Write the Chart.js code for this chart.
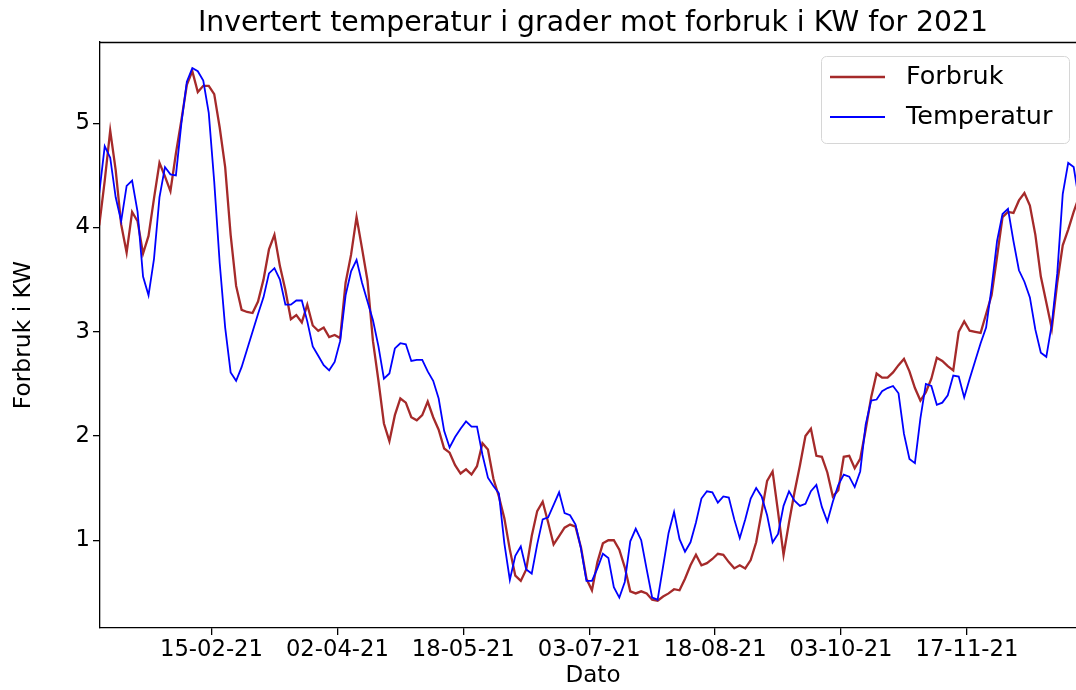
<!DOCTYPE html>
<html>
<head>
<meta charset="utf-8">
<script src="https://cdn.jsdelivr.net/npm/chart.js@4.4.1/dist/chart.umd.min.js"></script>
<style>
  html, body { margin: 0; padding: 0; background: #fff; overflow: hidden; }
  #wrap { width: 1076px; height: 690px; overflow: hidden; position: relative; }
  canvas { display: block; }
</style>
</head>
<body>
<div id="wrap"><canvas id="c" width="1090" height="690"></canvas></div>
<script>
// Day of year 2021 (0 = 1 Jan)
const days = [4,6,8,10,12,14,16,18,20,22,
  24,26,28,30,32,34,36,38,40,42,
  44,46,48,50,52,54,56,58,60,62,
  64,66,68,70,72,74,76,78,80,82,
  84,86,88,90,92,94,96,98,100,102,
  104,106,108,110,112,114,116,118,120,122,
  124,126,128,130,132,134,136,138,140,142,
  144,146,148,150,152,154,156,158,160,162,
  164,166,168,170,172,174,176,178,180,182,
  184,186,188,190,192,194,196,198,200,202,
  204,206,208,210,212,214,216,218,220,222,
  224,226,228,230,232,234,236,238,240,242,
  244,246,248,250,252,254,256,258,260,262,
  264,266,268,270,272,274,276,278,280,282,
  284,286,288,290,292,294,296,298,300,302,
  304,306,308,310,312,314,316,318,320,322,
  324,326,328,330,332,334,336,338,340,342,
  344,346,348,350,352,354,356,358,360,362];

const forbruk = [4.02,4.45,4.93,4.55,4.03,3.76,4.15,4.06,3.75,3.92,
  4.28,4.62,4.49,4.35,4.71,5.03,5.37,5.50,5.30,5.36,
  5.36,5.28,4.96,4.58,3.93,3.44,3.21,3.19,3.18,3.29,
  3.50,3.79,3.93,3.63,3.40,3.12,3.16,3.09,3.26,3.06,
  3.01,3.04,2.95,2.97,2.94,3.47,3.74,4.10,3.80,3.49,
  2.91,2.53,2.12,1.95,2.20,2.36,2.32,2.18,2.15,2.20,
  2.33,2.18,2.06,1.88,1.84,1.72,1.64,1.68,1.63,1.71,
  1.93,1.87,1.59,1.42,1.21,0.91,0.66,0.61,0.72,1.04,
  1.28,1.37,1.17,0.96,1.04,1.12,1.15,1.13,0.93,0.63,
  0.52,0.79,0.97,1.00,1.00,0.91,0.74,0.51,0.49,0.51,
  0.49,0.43,0.42,0.46,0.49,0.53,0.52,0.63,0.76,0.86,
  0.76,0.78,0.82,0.87,0.86,0.79,0.73,0.76,0.73,0.81,
  0.98,1.27,1.57,1.66,1.27,0.86,1.17,1.46,1.72,2.00,
  2.07,1.81,1.80,1.65,1.42,1.48,1.80,1.81,1.69,1.78,
  2.06,2.37,2.60,2.56,2.56,2.61,2.68,2.74,2.62,2.46,
  2.34,2.42,2.55,2.75,2.72,2.67,2.63,3.00,3.10,3.01,
  3.00,2.99,3.17,3.35,3.72,4.10,4.15,4.14,4.26,4.33,
  4.21,3.93,3.53,3.28,3.03,3.47,3.83,3.98,4.15,4.30];

const temperatur = [4.33,4.78,4.67,4.29,4.06,4.40,4.45,4.15,3.53,3.35,
  3.70,4.29,4.58,4.51,4.50,5.00,5.40,5.53,5.50,5.41,
  5.10,4.44,3.66,3.04,2.61,2.53,2.66,2.83,3.00,3.17,
  3.33,3.56,3.61,3.50,3.26,3.26,3.30,3.30,3.10,2.86,
  2.77,2.68,2.63,2.71,2.91,3.35,3.58,3.69,3.47,3.29,
  3.11,2.86,2.55,2.60,2.84,2.89,2.88,2.72,2.73,2.73,
  2.62,2.53,2.36,2.05,1.89,1.99,2.07,2.14,2.09,2.09,
  1.82,1.60,1.52,1.45,0.97,0.62,0.85,0.94,0.72,0.68,
  0.96,1.20,1.22,1.34,1.46,1.26,1.24,1.15,0.92,0.61,
  0.61,0.73,0.87,0.83,0.55,0.45,0.60,0.99,1.11,1.00,
  0.72,0.45,0.43,0.75,1.07,1.27,1.01,0.89,0.98,1.17,
  1.40,1.47,1.46,1.36,1.42,1.41,1.20,1.02,1.20,1.40,
  1.50,1.42,1.24,0.98,1.06,1.33,1.47,1.38,1.33,1.35,
  1.47,1.53,1.32,1.18,1.37,1.53,1.63,1.61,1.51,1.66,
  2.11,2.34,2.35,2.43,2.46,2.48,2.41,2.02,1.78,1.74,
  2.17,2.50,2.48,2.30,2.32,2.39,2.58,2.57,2.37,2.55,
  2.72,2.89,3.04,3.42,3.87,4.13,4.18,3.87,3.59,3.48,
  3.33,3.02,2.80,2.76,3.07,3.56,4.32,4.62,4.58,4.25];

const yTicks = [1, 2, 3, 4, 5];
const xTickDays = [45, 91, 137, 183, 229, 275, 321];
const xTickLabels = ['15-02-21', '02-04-21', '18-05-21', '03-07-21', '18-08-21', '03-10-21', '17-11-21'];

const FONT = '"DejaVu Sans", Verdana, sans-serif';

const framePlugin = {
  id: 'frame',
  afterDraw(chart) {
    const ctx = chart.ctx;
    const a = chart.chartArea;
    ctx.save();
    ctx.strokeStyle = '#000';
    ctx.lineWidth = 1.3;
    ctx.beginPath();
    ctx.moveTo(a.left, a.top + 0.5);
    ctx.lineTo(a.right, a.top + 0.5);
    ctx.stroke();
    ctx.fillStyle = '#000';
    ctx.font = '28.3px ' + FONT;
    ctx.textAlign = 'center';
    ctx.textBaseline = 'middle';
    ctx.fillText('Invertert temperatur i grader mot forbruk i KW for 2021', (a.left + a.right) / 2, 24);
    const bx = 821.5, by = 56.5, bw = 248, bh = 87;
    ctx.beginPath();
    ctx.roundRect(bx, by, bw, bh, 5);
    ctx.fillStyle = 'rgba(255,255,255,0.85)';
    ctx.fill();
    ctx.strokeStyle = '#d6d6d6';
    ctx.lineWidth = 1;
    ctx.stroke();
    const rows = [77, 117];
    chart.data.datasets.forEach((ds, i) => {
      const y = rows[i];
      ctx.strokeStyle = ds.borderColor;
      ctx.lineWidth = ds.borderWidth;
      ctx.beginPath();
      ctx.moveTo(830, y);
      ctx.lineTo(885, y);
      ctx.stroke();
      ctx.fillStyle = '#000';
      ctx.font = '25.5px ' + FONT;
      ctx.textAlign = 'left';
      ctx.textBaseline = 'middle';
      ctx.fillText(ds.label, 906, y);
    });
    ctx.restore();
  }
};

new Chart(document.getElementById('c'), {
  type: 'line',
  data: {
    datasets: [
      {
        label: 'Forbruk',
        data: days.map((d, i) => ({ x: d, y: forbruk[i] })),
        borderColor: '#a52a2a',
        borderWidth: 2.3,
        pointRadius: 0,
        tension: 0,
        order: 1
      },
      {
        label: 'Temperatur',
        data: days.map((d, i) => ({ x: d, y: temperatur[i] })),
        borderColor: '#0000ff',
        borderWidth: 1.8,
        pointRadius: 0,
        tension: 0,
        order: 0
      }
    ]
  },
  options: {
    responsive: false,
    animation: false,
    devicePixelRatio: 1,
    layout: { padding: { top: 42, right: 4, left: 0, bottom: 0 } },
    plugins: {
      legend: { display: false },
      title: { display: false },
      tooltip: { enabled: false }
    },
    scales: {
      x: {
        type: 'linear',
        min: 4.27,
        max: 364.5,
        afterFit(scale) { scale.height = 62; },
        afterBuildTicks(scale) { scale.ticks = xTickDays.map(v => ({ value: v })); },
        ticks: {
          autoSkip: false,
          maxRotation: 0,
          padding: 1,
          color: '#000',
          font: { family: FONT, size: 22.7 },
          callback(value) {
            const i = xTickDays.indexOf(value);
            return i >= 0 ? xTickLabels[i] : '';
          }
        },
        grid: { drawOnChartArea: false, drawTicks: true, tickLength: 7, color: '#000', lineWidth: 1.3 },
        border: { display: true, color: '#000', width: 1.3 },
        title: { display: true, text: 'Dato', color: '#000', font: { family: FONT, size: 23 }, padding: { top: 0, bottom: 0 } }
      },
      y: {
        type: 'linear',
        min: 0.158,
        max: 5.78,
        afterFit(scale) { scale.width = 100; },
        afterBuildTicks(scale) { scale.ticks = yTicks.map(v => ({ value: v })); },
        ticks: {
          padding: 3,
          color: '#000',
          font: { family: FONT, size: 22.7 },
          callback(value) { return String(value); }
        },
        grid: { drawOnChartArea: false, drawTicks: true, tickLength: 7, color: '#000', lineWidth: 1.3 },
        border: { display: true, color: '#000', width: 1.3 },
        title: { display: true, text: 'Forbruk i KW', color: '#000', font: { family: FONT, size: 23.4 }, padding: { top: 10, bottom: 0 } }
      }
    }
  },
  plugins: [framePlugin]
});
</script>
</body>
</html>
